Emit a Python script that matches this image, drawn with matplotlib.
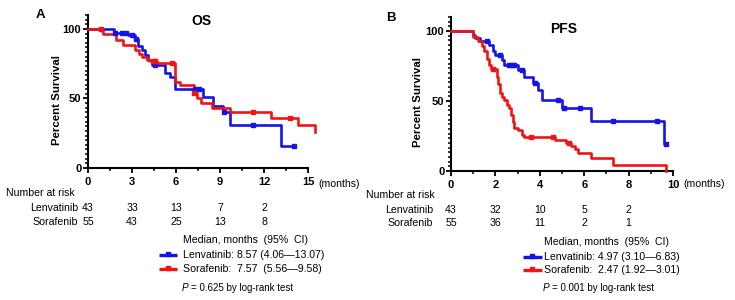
import matplotlib
matplotlib.use('Agg')
import matplotlib.pyplot as plt
from matplotlib.transforms import blended_transform_factory
from matplotlib.ticker import MultipleLocator
import numpy as np

plt.rcParams['font.family'] = ['Liberation Sans', 'DejaVu Sans']

# ---------------- data ----------------
groups = ["Lenvatinib", "Sorafenib"]

# OS (months, percent survival)
os_len_t = [0, 1.75, 2.7, 3.2, 3.4, 3.7, 3.9, 4.1, 4.35, 5.25, 5.6, 5.9, 7.85, 8.5, 9.2, 9.7, 13.15, 14.05]
os_len_s = [100, 97, 95.5, 93, 88, 85, 81, 78, 74, 68, 65.5, 57, 51, 44.5, 40, 31, 16, 16]
os_len_c = [1.85, 2.3, 2.6, 3.0, 3.3, 4.6, 7.3, 7.6, 9.3, 11.25, 14.05]

os_sor_t = [0, 0.95, 1.05, 1.9, 2.4, 3.2, 3.5, 3.7, 4.0, 4.2, 4.7, 5.95, 6.25, 7.2, 7.4, 7.7, 8.45, 9.7, 12.5, 14.3, 15.45]
os_sor_s = [100, 98.5, 96, 92, 88.5, 85, 82, 80, 78, 77, 75.5, 62, 60, 54, 50, 47, 43, 40, 36, 31, 26]
os_sor_c = [0.9, 4.5, 4.6, 5.75, 7.2, 11.25, 13.8]

os_med = ["Lenvatinib: 8.57 (4.06\u201413.07)", "Sorafenib:  7.57  (5.56\u20149.58)"]
os_p = "= 0.625 by log-rank test"
os_ticks = [0, 3, 6, 9, 12, 15]
os_risk_len = [43, 33, 13, 7, 2]
os_risk_sor = [55, 43, 25, 13, 8]

# PFS
pfs_len_t = [0, 1.0, 1.1, 1.3, 1.7, 1.9, 2.0, 2.3, 2.4, 3.0, 3.3, 3.7, 3.9, 4.1, 5.0, 6.3, 9.6, 9.7]
pfs_len_s = [100, 97, 95, 93, 90, 86, 83, 79, 76, 72, 67, 63, 58, 51, 45, 36, 19, 19]
pfs_len_c = [1.6, 2.2, 2.6, 2.75, 2.85, 3.2, 3.8, 4.8, 5.1, 5.8, 7.3, 9.3, 9.7]

pfs_sor_t = [0, 1.0, 1.2, 1.4, 1.5, 1.6, 1.7, 1.8, 2.05, 2.1, 2.2, 2.3, 2.4, 2.5, 2.6, 2.7, 2.8,
             2.85, 3.0, 3.2, 3.3, 4.7, 5.2, 5.4, 5.6, 5.7, 6.3, 7.3, 9.7]
pfs_sor_s = [100, 96, 93, 89, 86, 80, 76, 73, 67, 62, 56, 53, 51, 47, 45, 40, 35,
             31, 29, 26, 24.5, 22, 20, 18, 16, 13, 9, 4, 0]
pfs_sor_c = [1.9, 3.6, 4.6, 5.3]

pfs_med = ["Lenvatinib: 4.97 (3.10\u20146.83)", "Sorafenib:  2.47 (1.92\u20143.01)"]
pfs_p = "= 0.001 by log-rank test"
pfs_ticks = [0, 2, 4, 6, 8, 10]
pfs_risk_len = [43, 32, 10, 5, 2]
pfs_risk_sor = [55, 36, 11, 2, 1]

BLUE = '#1414e6'
RED = '#f01414'
FS = 7.6

W, H = 735, 300
fig = plt.figure(figsize=(W / 100, H / 100), dpi=100)
ov = fig.add_axes([0, 0, 1, 1], zorder=5)
ov.set_xlim(0, W)
ov.set_ylim(H, 0)
ov.axis('off')
ov.patch.set_alpha(0)


def pax(l, r, bottom0, top):
    return [l / W, (H - bottom0) / H, (r - l) / W, (bottom0 - top) / H]


def surv_at(t, times, surv):
    i = np.searchsorted(times, t, side='right') - 1
    return surv[max(i, 0)]


def km(ax, t, s, c, color):
    ax.step(t, s, where='post', color=color, lw=1.9, clip_on=False, zorder=3)
    cs = [surv_at(x, t, s) for x in c]
    ax.plot(c, cs, ls='none', marker='s', ms=2.6, color=color, clip_on=False, zorder=4)


def style(ax, xmax, xmaj, ticks, lab_x, lab_y):
    ax.set_ylim(0, 110)
    ax.set_xlim(0, xmax)
    for sp in ['top', 'right']:
        ax.spines[sp].set_visible(False)
    for sp in ['left', 'bottom']:
        ax.spines[sp].set_linewidth(1.5)
    ax.set_yticks([0, 50, 100])
    ax.yaxis.set_minor_locator(MultipleLocator(50 / 15))
    ax.set_xticks(ticks)
    ax.xaxis.set_minor_locator(MultipleLocator(xmaj / 2))
    ax.tick_params(which='major', length=3.8, width=1.3, labelsize=8)
    ax.tick_params(axis='x', which='major', pad=2.5)
    ax.tick_params(axis='y', which='major', pad=1)
    ax.tick_params(which='minor', length=2.2, width=1.1)
    for lab in ax.get_xticklabels() + ax.get_yticklabels():
        lab.set_fontweight('bold')
    ax.set_ylabel('Percent Survival', fontsize=8.2, fontweight='bold')
    ax.yaxis.set_label_coords(lab_x, lab_y)


axA = fig.add_axes(pax(88, 308, 168, 15))
style(axA, 15, 3, os_ticks, -0.12, 0.444)
km(axA, os_len_t, os_len_s, os_len_c, BLUE)
km(axA, os_sor_t, os_sor_s, os_sor_c, RED)

axB = fig.add_axes(pax(451, 673, 171, 17))
style(axB, 10, 2, pfs_ticks, -0.124, 0.445)
km(axB, pfs_len_t, pfs_len_s, pfs_len_c, BLUE)
km(axB, pfs_sor_t, pfs_sor_s, pfs_sor_c, RED)

# titles and panel letters
ov.text(201, 21, 'OS', ha='center', va='center', fontsize=10, fontweight='bold')
ov.text(564, 29, 'PFS', ha='center', va='center', fontsize=10, fontweight='bold')
ov.text(40, 15, 'A', ha='center', va='center', fontsize=9.5, fontweight='bold')
ov.text(391, 18, 'B', ha='center', va='center', fontsize=9.5, fontweight='bold')
ov.text(318, 184, '(months)', ha='left', va='center', fontsize=FS)
ov.text(683, 184, '(months)', ha='left', va='center', fontsize=FS)


def risk_table(ax, x_label, x_lab_right, y_hdr, y1, y2, rl, rs, ticks):
    ov.text(x_label, y_hdr, 'Number at risk', ha='left', va='center', fontsize=FS)
    ov.text(x_lab_right, y1, groups[0], ha='right', va='center', fontsize=FS)
    ov.text(x_lab_right, y2, groups[1], ha='right', va='center', fontsize=FS)
    tr = blended_transform_factory(ax.transData, ov.transData)
    for t, a, b in zip(ticks, rl, rs):
        ov.text(t, y1, str(a), ha='center', va='center', fontsize=FS, transform=tr)
        ov.text(t, y2, str(b), ha='center', va='center', fontsize=FS, transform=tr)


risk_table(axA, 6, 78, 193, 208, 222, os_risk_len, os_risk_sor, os_ticks)
risk_table(axB, 366, 433, 195, 210, 223, pfs_risk_len, pfs_risk_sor, pfs_ticks)


def median_box(x_line0, x_line1, x_text, y_hdr, y1, y2, y_p, meds, ptxt):
    ov.text(x_text, y_hdr, 'Median, months  (95%  CI)', ha='left', va='center', fontsize=FS)
    for y, col, txt in [(y1, BLUE, meds[0]), (y2, RED, meds[1])]:
        ov.plot([x_line0, x_line1], [y, y], color=col, lw=2.4, solid_capstyle='butt')
        ov.plot([(x_line0 + x_line1) / 2], [y - 1.3], marker='s', ms=2.6, color=col, ls='none')
        ov.text(x_text, y, txt, ha='left', va='center', fontsize=FS)
    ov.text(x_text - 1, y_p, 'P', ha='left', va='center', fontsize=7.2, fontstyle='italic')
    ov.text(x_text + 8, y_p, ptxt, ha='left', va='center', fontsize=7)


median_box(159, 177, 183, 240, 255, 269, 288, os_med, os_p)
median_box(523, 542, 544, 242, 257, 270, 288, pfs_med, pfs_p)

fig.savefig('out.png', dpi=100)
